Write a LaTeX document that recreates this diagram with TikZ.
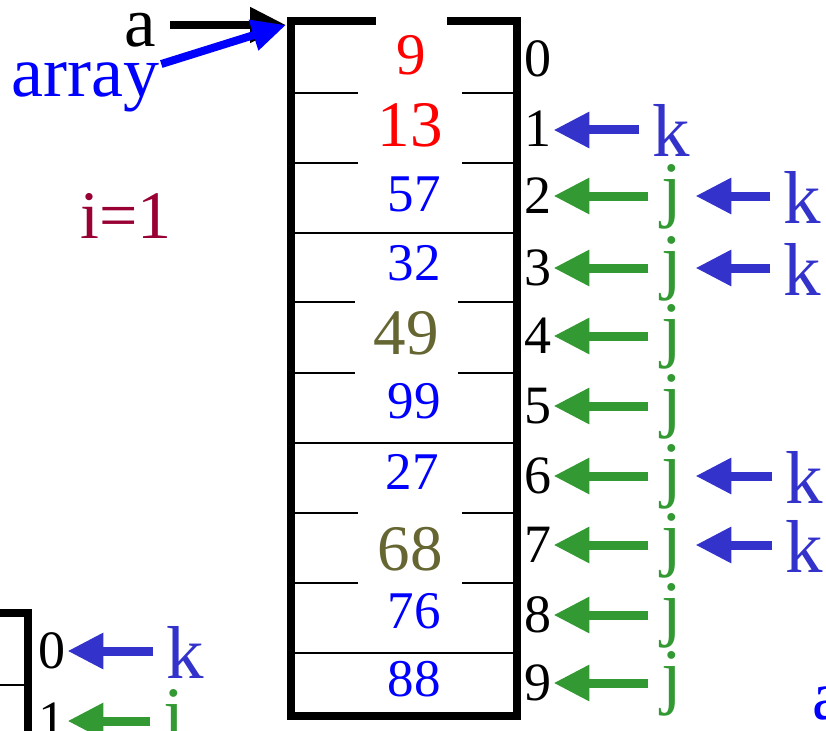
\documentclass[tikz,border=0pt]{standalone}
\usepackage{fontspec}
\setmainfont{Liberation Serif}
\usetikzlibrary{positioning, arrows.meta}
\definecolor{kblue}{HTML}{3333CC}
\definecolor{jgreen}{HTML}{339933}
\definecolor{keyolive}{HTML}{666633}
\definecolor{imaroon}{HTML}{990033}

\begin{document}
\begin{tikzpicture}[x=1pt, y=-1pt,
        frame/.style={draw=black, line width=7.5pt},
        cell/.style={draw=black, line width=1.3pt},
        txt/.style={inner sep=2pt},
        num/.style={inner sep=0pt, text=blue, font=\fontsize{53}{60}\selectfont},
        hot/.style={inner sep=0pt, fill=white, font=\fontsize{65}{72}\selectfont},
        idx/.style={inner sep=2pt, text height=34pt, text depth=0pt, anchor=base west,
                    font=\fontsize{54}{60}\selectfont},
        jlab/.style={inner xsep=13pt, inner ysep=2pt, text height=34pt, text depth=0pt,
                     text=jgreen, font=\fontsize{74}{80}\selectfont},
        klab/.style={inner xsep=13pt, inner ysep=2pt, text height=54pt, text depth=0pt,
                     text=kblue, font=\fontsize{75}{80}\selectfont},
        jarrow/.style={-{Triangle[length=36pt, width=34pt]}, line width=9pt, draw=jgreen},
        karrow/.style={-{Triangle[length=36pt, width=34pt]}, line width=9pt, draw=kblue}
    ]
        \useasboundingbox (0,0) rectangle (826,730);

        \draw[cell] (291,93) -- (517,93) (291,163) -- (517,163) (291,233) -- (517,233)
                    (291,302) -- (517,302) (291,373) -- (517,373) (291,443) -- (517,443)
                    (291,513) -- (517,513) (291,583) -- (517,583) (291,653) -- (517,653);
        \draw[frame] (291,21) rectangle (517,716);

        \node[hot, text=red, minimum width=71pt, minimum height=80pt,
              font=\fontsize{59}{66}\selectfont] (v0) at (411,55) {9};
        \node[hot, text=red, minimum width=104pt, minimum height=80pt] (v1) at (410,125) {13};
        \node[num] (v2) at (414,194.5) {57};
        \node[num] (v3) at (414,263.5) {32};
        \node[hot, text=keyolive, minimum width=103pt, minimum height=84pt] (v4) at (406,333.5) {49};
        \node[num] (v5) at (414,401.5) {99};
        \node[num] (v6) at (412,471.5) {27};
        \node[hot, text=keyolive, minimum width=104pt, minimum height=80pt] (v7) at (410,549.5) {68};
        \node[num] (v8) at (414,611.5) {76};
        \node[num] (v9) at (414,679.5) {88};

        \node[idx] (i0) at (522,77) {0};
        \node[idx] (i1) at (522,147) {1};
        \node[idx] (i2) at (522,213) {2};
        \node[idx] (i3) at (522,285) {3};
        \node[idx] (i4) at (522,353) {4};
        \node[idx] (i5) at (522,423) {5};
        \node[idx] (i6) at (522,493) {6};
        \node[idx] (i7) at (522,562) {7};
        \node[idx] (i8) at (522,632) {8};
        \node[idx] (i9) at (522,700) {9};

        \node[klab, right=86pt of i1] (k1) {k};
        \node[jlab, right=95pt of i2] (j2) {j};
        \node[jlab, right=95pt of i3] (j3) {j};
        \node[jlab, right=95pt of i4] (j4) {j};
        \node[jlab, right=95pt of i5] (j5) {j};
        \node[jlab, right=95pt of i6] (j6) {j};
        \node[jlab, right=95pt of i7] (j7) {j};
        \node[jlab, right=95pt of i8] (j8) {j};
        \node[jlab, right=95pt of i9] (j9) {j};
        \node[klab, right=75pt of j2] (k2) {k};
        \node[klab, right=75pt of j3] (k3) {k};
        \node[klab, right=77pt of j6] (k6) {k};
        \node[klab, right=77pt of j7] (k7) {k};

        \draw[karrow] (k1) -- (i1);
        \draw[jarrow] (j2) -- (i2);
        \draw[jarrow] (j3) -- (i3);
        \draw[jarrow] (j4) -- (i4);
        \draw[jarrow] (j5) -- (i5);
        \draw[jarrow] (j6) -- (i6);
        \draw[jarrow] (j7) -- (i7);
        \draw[jarrow] (j8) -- (i8);
        \draw[jarrow] (j9) -- (i9);
        \draw[karrow] (k2) -- (j2);
        \draw[karrow] (k3) -- (j3);
        \draw[karrow] (k6) -- (j6);
        \draw[karrow] (k7) -- (j7);

        \draw[cell] (-5,685) -- (28,685);
        \draw[frame] (-5,613) -- (28,613) -- (28,740);
        \node[idx] (b0) at (36,668) {0};
        \node[idx] (b1) at (36,738) {1};
        \node[klab, right=86pt of b0] (bk0) {k};
        \node[jlab, right=83pt of b1] (bj1) {j};
        \draw[karrow] (bk0) -- (b0);
        \draw[jarrow] (bj1) -- (b1);

        \coordinate (corner) at (286,25);
        \node[inner xsep=14pt, inner ysep=2pt, text height=44pt, text depth=0pt, anchor=base,
              font=\fontsize{71}{78}\selectfont] (a) at (140,47) {a};
        \node[txt, anchor=base west, text=blue, font=\fontsize{72}{78}\selectfont] (array) at (9,97) {array};
        \draw[-{Triangle[length=36pt, width=34pt]}, line width=8pt] (a) -- (corner);
        \draw[-{Triangle[length=34pt, width=30pt]}, line width=8pt, draw=blue] (array) -- (corner);

        \node[txt, anchor=base, text=imaroon, font=\fontsize{68}{75}\selectfont] (iter) at (126,238) {i=1};
        \node[txt, anchor=base west, text=blue, font=\fontsize{70}{76}\selectfont] (next) at (810,719) {a};
    \end{tikzpicture}
\end{document}
